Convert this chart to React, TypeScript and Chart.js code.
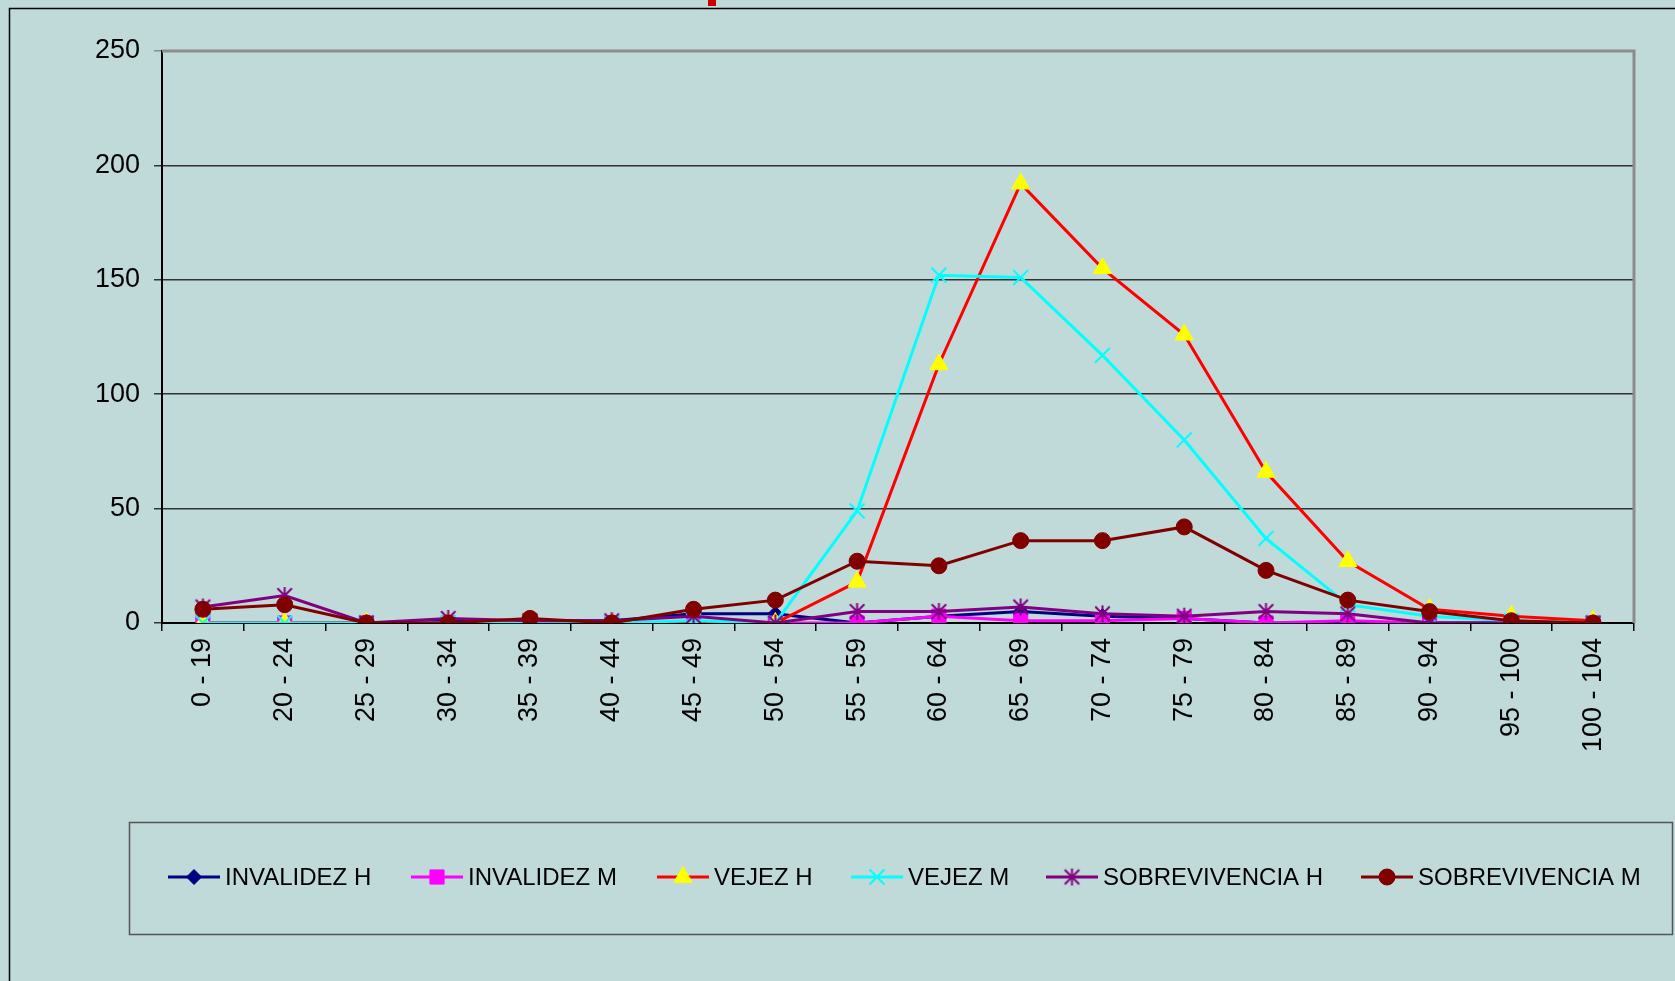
import React, { useEffect, useRef } from "react";
import { Chart, registerables } from "chart.js";
import { drawPoint } from "chart.js/helpers";

Chart.register(...registerables);

const categories = [
  "0 - 19", "20 - 24", "25 - 29", "30 - 34", "35 - 39", "40 - 44", "45 - 49", "50 - 54", "55 - 59",
  "60 - 64", "65 - 69", "70 - 74", "75 - 79", "80 - 84", "85 - 89", "90 - 94", "95 - 100", "100 - 104",
];
const invalidezH = [0, 0, 0, 1, 1, 1, 4, 4, 0, 3, 5, 3, 2, 0, 0, 0, 0, 0];
const invalidezM = [0, 0, 0, 0, 0, 0, 0, 0, 0, 3, 1, 1, 2, 0, 1, 0, 0, 0];
const vejezH = [0, 0, 0, 0, 0, 0, 0, 0, 18, 113, 192, 155, 126, 66, 27, 6, 3, 1];
const vejezM = [0, 0, 0, 0, 0, 0, 1, 0, 49, 152, 151, 117, 80, 37, 8, 3, 1, 0];
const sobrevivenciaH = [7, 12, 0, 2, 1, 1, 3, 0, 5, 5, 7, 4, 3, 5, 4, 0, 0, 0];
const sobrevivenciaM = [6, 8, 0, 0, 2, 0, 6, 10, 27, 25, 36, 36, 42, 23, 10, 5, 1, 0];
const yTicks = [0, 50, 100, 150, 200, 250];

const BG = "rgb(192,217,217)";
const FONT = "Liberation Sans, Arial, sans-serif";
const legendX = [168, 411, 657, 851, 1046, 1361];

function makeStar(color: string, r: number) {
  const c = document.createElement("canvas");
  const s = Math.ceil(r * 2 + 4);
  c.width = s;
  c.height = s;
  const g = c.getContext("2d")!;
  g.strokeStyle = color;
  g.lineWidth = 2;
  const cx = s / 2;
  const d = r * 0.85;
  g.beginPath();
  g.moveTo(cx - d, cx - d);
  g.lineTo(cx + d, cx + d);
  g.moveTo(cx + d, cx - d);
  g.lineTo(cx - d, cx + d);
  g.moveTo(cx, cx - r);
  g.lineTo(cx, cx + r);
  g.stroke();
  return c;
}

export default function App() {
  const ref = useRef<HTMLCanvasElement>(null);
  useEffect(() => {
    document.body.style.margin = "0";
    document.body.style.background = BG;
    const star = makeStar("#800080", 8.5);
    const series = [
      { label: "INVALIDEZ H", data: invalidezH, color: "#000080", fill: "#000080", style: "rectRot", radius: 7.5, bw: 1 },
      { label: "INVALIDEZ M", data: invalidezM, color: "#FF00FF", fill: "#FF00FF", style: "rect", radius: 10, bw: 1 },
      { label: "VEJEZ H", data: vejezH, color: "#FF0000", fill: "#FFFF00", pb: "#FFFF00", style: "triangle", radius: 10.5, bw: 1 },
      { label: "VEJEZ M", data: vejezM, color: "#00FFFF", fill: "#00FFFF", style: "crossRot", radius: 10.5, bw: 2 },
      { label: "SOBREVIVENCIA H", data: sobrevivenciaH, color: "#800080", fill: "#800080", style: star as any, radius: 8.5, bw: 2 },
      { label: "SOBREVIVENCIA M", data: sobrevivenciaM, color: "#800000", fill: "#800000", style: "circle", radius: 8, bw: 1 },
    ];

    const bgPlugin = {
      id: "bgPlugin",
      beforeDraw(chart: any) {
        const ctx = chart.ctx;
        ctx.save();
        ctx.fillStyle = BG;
        ctx.fillRect(0, 0, chart.width, chart.height);
        ctx.strokeStyle = "#000";
        ctx.lineWidth = 1.5;
        ctx.beginPath();
        ctx.moveTo(9.5, 981);
        ctx.lineTo(9.5, 8.5);
        ctx.lineTo(1675, 8.5);
        ctx.stroke();
        ctx.fillStyle = "#CC0000";
        ctx.fillRect(708, 0, 8, 6);
        ctx.restore();
      },
      beforeDatasetsDraw(chart: any) {
        const { ctx, chartArea } = chart;
        ctx.save();
        ctx.strokeStyle = "#8c8c8c";
        ctx.lineWidth = 3;
        ctx.beginPath();
        ctx.moveTo(chartArea.left, chartArea.top);
        ctx.lineTo(chartArea.right, chartArea.top);
        ctx.lineTo(chartArea.right, chartArea.bottom);
        ctx.stroke();
        ctx.restore();
      },
      afterDraw(chart: any) {
        const ctx = chart.ctx;
        ctx.save();
        ctx.strokeStyle = "#555";
        ctx.lineWidth = 1.5;
        ctx.strokeRect(129.5, 822.5, 1543, 112);
        ctx.font = `24px ${FONT}`;
        ctx.textBaseline = "middle";
        ctx.textAlign = "left";
        const y = 877;
        chart.data.datasets.forEach((ds: any, i: number) => {
          const x = legendX[i];
          ctx.strokeStyle = ds.borderColor;
          ctx.lineWidth = 3;
          ctx.beginPath();
          ctx.moveTo(x, y);
          ctx.lineTo(x + 52, y);
          ctx.stroke();
          ctx.fillStyle = ds.pointBackgroundColor;
          ctx.strokeStyle = ds.pointBorderColor;
          ctx.lineWidth = ds.pointBorderWidth;
          drawPoint(ctx, { pointStyle: ds.pointStyle, radius: ds.pointRadius, rotation: 0, borderWidth: ds.pointBorderWidth }, x + 26, y);
          ctx.fillStyle = "#000";
          ctx.fillText(ds.label, x + 57, y + 1);
        });
        ctx.restore();
      },
    };

    const chart = new Chart(ref.current!, {
      type: "line",
      data: {
        labels: categories,
        datasets: series.map((s, i) => ({
          label: s.label,
          data: s.data,
          borderColor: s.color,
          borderWidth: 3,
          pointStyle: s.style,
          pointRadius: s.radius,
          pointHoverRadius: s.radius,
          pointBackgroundColor: s.fill,
          pointBorderColor: (s as any).pb || s.color,
          pointBorderWidth: s.bw,
          tension: 0,
          fill: false,
          order: series.length - i,
        })),
      },
      options: {
        responsive: false,
        animation: false,
        devicePixelRatio: 1,
        layout: { padding: { top: 51, right: 41, bottom: 158, left: 0 } },
        plugins: { legend: { display: false }, tooltip: { enabled: false }, title: { display: false } },
        scales: {
          x: {
            type: "category",
            offset: true,
            afterFit: (s: any) => { s.height = 200; },
            grid: { offset: true, drawOnChartArea: false, drawTicks: true, tickLength: 8, color: "#000", lineWidth: 1.5 },
            border: { display: true, color: "#000", width: 2 },
            ticks: { autoSkip: false, maxRotation: 90, minRotation: 90, padding: 7, color: "#000", font: { size: 27, family: FONT } },
          },
          y: {
            min: 0,
            max: 250,
            afterFit: (s: any) => { s.width = 162; },
            afterBuildTicks: (s: any) => { s.ticks = yTicks.map((v) => ({ value: v })); },
            grid: {
              color: (c: any) => (c.tick && c.tick.value === 250 ? "#8c8c8c" : "#333"),
              lineWidth: 1.5,
              tickLength: 8,
            },
            border: { display: true, color: "#000", width: 2 },
            ticks: { padding: 14, color: "#000", font: { size: 27, family: FONT } },
          },
        },
      },
      plugins: [bgPlugin],
    } as any);
    return () => chart.destroy();
  }, []);
  return (
    <div style={{ position: "absolute", left: 0, top: 0, width: 1675, height: 981, background: BG }}>
      <canvas ref={ref} width={1675} height={981} style={{ width: 1675, height: 981, display: "block" }} />
    </div>
  );
}
